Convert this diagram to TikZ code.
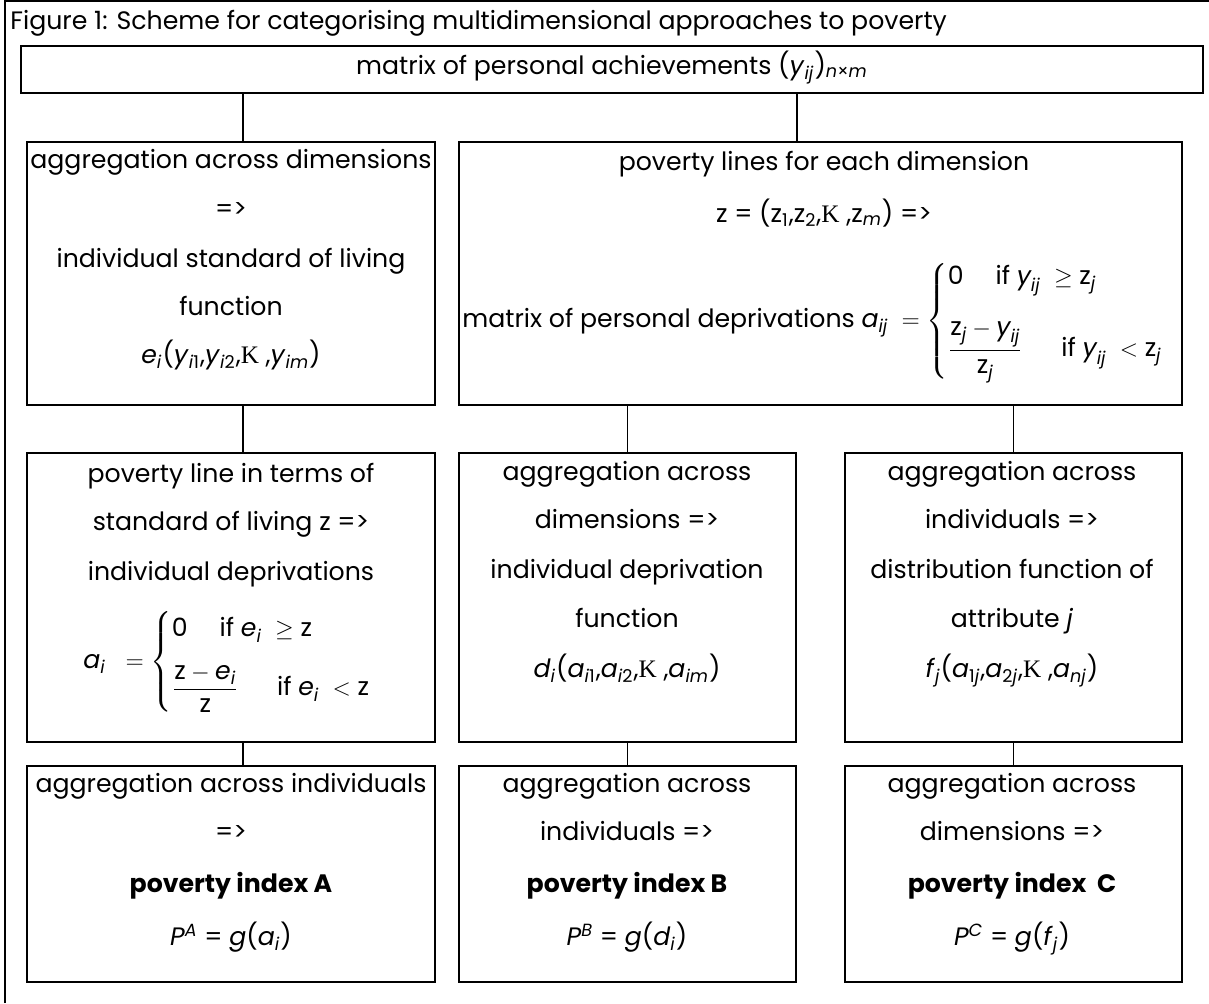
\documentclass[tikz,border=0pt]{standalone}
\usepackage{amsmath}
\usepackage{fontspec}
\setmainfont{Poppins}
\newfontfamily\timesf{Liberation Serif}
\usetikzlibrary{fit}
\newcommand\KK{{\timesf K}}
\newcommand\vi[1]{\textit{#1}}
\newcommand\sbs[1]{\textsubscript{#1}}
\newcommand\sps[1]{\textsuperscript{#1}}
\newcommand\mv[1]{\text{\itshape #1}}
\newcommand\mn[1]{\text{#1}}
\tikzset{
  box/.style={draw, line width=1pt, inner sep=0pt, rectangle},
  link/.style={line width=0.7pt},
  txt/.style={anchor=base, inner sep=0pt, font=\fontsize{12.6}{15}\selectfont},
}
\begin{document}
\begin{tikzpicture}[x=0.5pt,y=-0.5pt]
\useasboundingbox (0,0) rectangle (1209,1003);
\draw[line width=1pt] (5,1003) -- (5,1) -- (1209,1);
\node[anchor=base west, inner sep=0pt, font=\fontsize{12.6}{15}\selectfont] (title) at (10,29)
  {Figure 1: Scheme for categorising multidimensional approaches to poverty};

% boxes
\node[box, fit={(21,46) (1203,93)}] (top) {};
\node[box, fit={(27,142) (435,405)}] (L2) {};
\node[box, fit={(459,142) (1182,405)}] (R2) {};
\node[box, fit={(27,453) (435,742)}] (L3) {};
\node[box, fit={(459,453) (796,742)}] (M3) {};
\node[box, fit={(845,453) (1182,742)}] (Rt3) {};
\node[box, fit={(27,766) (435,982)}] (L4) {};
\node[box, fit={(459,766) (796,982)}] (M4) {};
\node[box, fit={(845,766) (1182,982)}] (Rt4) {};

% connectors
\coordinate (a1) at ([xshift=6pt]L2.north);
\draw[link] (top.south -| a1) -- (a1);
\coordinate (a2) at ([xshift=-11.75pt]R2.north);
\draw[link] (top.south -| a2) -- (a2);
\coordinate (a3) at ([xshift=6pt]L3.north);
\draw[link] (L2.south -| a3) -- (a3);
\draw[link] (R2.south -| M3.north) -- (M3.north);
\draw[link] (R2.south -| Rt3.north) -- (Rt3.north);
\coordinate (a4) at ([xshift=6pt]L4.north);
\draw[link] (L3.south -| a4) -- (a4);
\draw[link] (M3.south) -- (M4.north);
\draw[link] (Rt3.south) -- (Rt4.north);

% texts
\node[txt] (ttop) at (612,74) {matrix of personal achievements (\vi{y}\sbs{\vi{ij}})\sbs{\vi{n}×\vi{m}}};

\node[txt] (l2a) at (231,168) {aggregation across dimensions};
\node[txt] (l2b) at (231,217) {=>};
\node[txt] (l2c) at (231,267) {individual standard of living};
\node[txt] (l2d) at (231,315) {function};
\node[txt] (l2e) at (231,363) {\vi{e}\sbs{\vi{i}}(\vi{y}\sbs{\vi{i}1},\vi{y}\sbs{\vi{i}2},\KK\ ,\vi{y}\sbs{\vi{im}})};

\node[txt] (r2a) at (824,170) {poverty lines for each dimension};
\node[txt] (r2b) at (824,222) {z = (z\sbs{1},z\sbs{2},\KK\ ,z\sbs{\vi{m}}) =>};
\node[txt, anchor=base west] (r2c) at (462,327) {matrix of personal deprivations $\mv{a}_{\mv{ij}}\;=
  \begin{cases} \mn{0}\quad\ \text{if}\; \mv{y}_{\mv{ij}}\;\ge \mn{z}_{\mv{j}} \\[13pt]
  \dfrac{\mn{z}_{\mv{j}}-\mv{y}_{\mv{ij}}}{\mn{z}_{\mv{j}}}\quad\ \ \text{if}\; \mv{y}_{\mv{ij}}\;< \mn{z}_{\mv{j}} \end{cases}$};

\node[txt] (l3a) at (231,482) {poverty line in terms of};
\node[txt] (l3b) at (231,530) {standard of living z =>};
\node[txt] (l3c) at (231,580) {individual deprivations};
\node[txt] (l3d) at (240,668) {$\mv{a}_{\mv{i}}\;\; = \begin{cases} \mn{0}\quad\ \text{if}\; \mv{e}_{\mv{i}}\;\ge \mn{z} \\[9pt]
  \dfrac{\mn{z}-\mv{e}_{\mv{i}}}{\mn{z}}\quad\ \ \text{if}\; \mv{e}_{\mv{i}}\;< \mn{z} \end{cases}$};

\node[txt] (m3a) at (627,480) {aggregation across};
\node[txt] (m3b) at (627,528) {dimensions =>};
\node[txt] (m3c) at (627,578) {individual deprivation};
\node[txt] (m3d) at (627,627) {function};
\node[txt] (m3e) at (627,677) {\vi{d}\sbs{\vi{i}}(\vi{a}\sbs{\vi{i}1},\vi{a}\sbs{\vi{i}2},\KK\ ,\vi{a}\sbs{\vi{im}})};

\node[txt] (c3a) at (1012,480) {aggregation across};
\node[txt] (c3b) at (1012,528) {individuals =>};
\node[txt] (c3c) at (1012,578) {distribution function of};
\node[txt] (c3d) at (1012,627) {attribute \vi{j}};
\node[txt] (c3e) at (1012,677) {\vi{f}\sbs{\vi{j}}(\vi{a}\sbs{1\vi{j}},\vi{a}\sbs{2\vi{j}},\KK\ ,\vi{a}\sbs{\vi{nj}})};

\node[txt] (l4a) at (231,792) {aggregation across individuals};
\node[txt] (l4b) at (231,840) {=>};
\node[txt] (l4c) at (231,892) {\textbf{poverty index A}};
\node[txt] (l4d) at (231,945) {\vi{P}\sps{\vi{A}} = \vi{g}(\vi{a}\sbs{\vi{i}})};

\node[txt] (m4a) at (627,792) {aggregation across};
\node[txt] (m4b) at (627,840) {individuals =>};
\node[txt] (m4c) at (627,892) {\textbf{poverty index B}};
\node[txt] (m4d) at (627,945) {\vi{P}\sps{\vi{B}} = \vi{g}(\vi{d}\sbs{\vi{i}})};

\node[txt] (c4a) at (1012,792) {aggregation across};
\node[txt] (c4b) at (1012,840) {dimensions =>};
\node[txt] (c4c) at (1012,892) {\textbf{poverty index\ \ C}};
\node[txt] (c4d) at (1012,945) {\vi{P}\sps{\vi{C}} = \vi{g}(\vi{f}\sbs{\vi{j}})};
\end{tikzpicture}
\end{document}
